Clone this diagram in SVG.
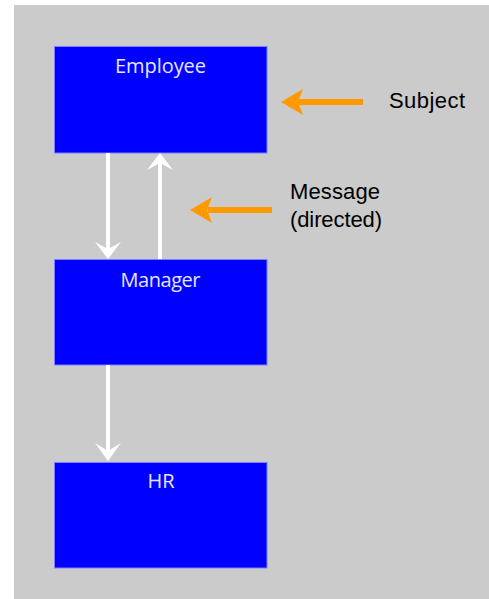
<svg xmlns="http://www.w3.org/2000/svg" width="489" height="599" viewBox="0 0 489 599">
<defs>
<style>
.box{fill:#0000ff;stroke:#7f7fff;stroke-width:1}
.bt{font-family:"Open Sans","Liberation Sans",sans-serif;font-size:20px;fill:#e6e6ff;text-anchor:middle}
.lt{font-family:"Liberation Sans",Arial,sans-serif;font-size:22px;fill:#000}
.ws{stroke:#ffffff;stroke-width:4;fill:none}
.wh{fill:#ffffff}
.os{stroke:#ff9900;stroke-width:6;fill:none}
.oh{fill:#ff9900}
</style>
</defs>
<rect x="14" y="5" width="475" height="594" fill="#cbcbcb"/>
<g id="employee"><rect class="box" x="54.5" y="46.5" width="212.5" height="106.5"/><text class="bt" x="160.5" y="73" textLength="91">Employee</text></g>
<g id="manager"><rect class="box" x="54.5" y="259.5" width="212.5" height="105.5"/><text class="bt" x="160.5" y="287" textLength="80">Manager</text></g>
<g id="hr"><rect class="box" x="54.5" y="462.5" width="212.5" height="105.5"/><text class="bt" x="161" y="488" textLength="27">HR</text></g>
<g id="connectors">
<line class="ws" x1="108" y1="153" x2="108" y2="250"/>
<path class="wh" d="M95,242 L108,259 L121,242 L108,249 Z"/>
<line class="ws" x1="160" y1="259" x2="160" y2="162"/>
<path class="wh" d="M147,170 L160,153 L173,170 L160,163 Z"/>
<line class="ws" x1="108" y1="365" x2="108" y2="452"/>
<path class="wh" d="M95,443 L108,461 L121,443 L108,451 Z"/>
<line class="os" x1="363" y1="102" x2="298" y2="102"/>
<path class="oh" d="M281,102 L303,89 L298,102 L303,115 Z"/>
<line class="os" x1="272" y1="210" x2="208" y2="210"/>
<path class="oh" d="M190,210 L212,197 L207,210 L212,223 Z"/>
</g>
<g id="labels">
<text class="lt" x="389" y="108" textLength="76">Subject</text>
<text class="lt" x="290" y="199" textLength="90">Message</text>
<text class="lt" x="290" y="227" textLength="92">(directed)</text>
</g>
</svg>
